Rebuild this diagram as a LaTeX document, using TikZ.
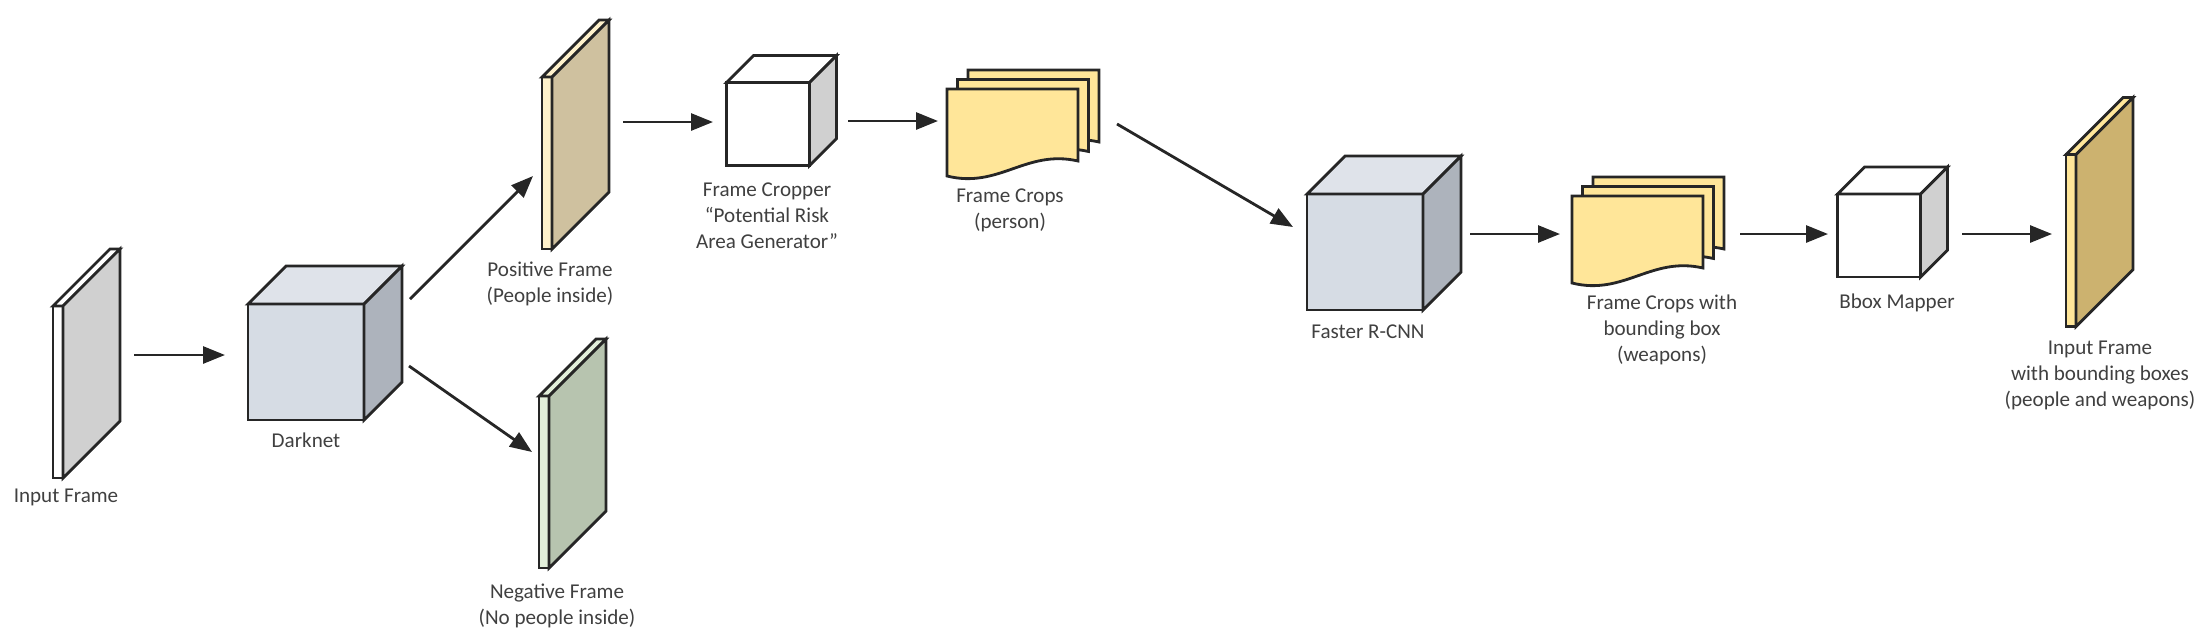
\documentclass[tikz,border=0pt]{standalone}
\usepackage{fontspec}
\setmainfont{Carlito}
\usetikzlibrary{arrows.meta}

\definecolor{edgegray}{HTML}{262626}
\definecolor{textgray}{HTML}{404040}
\definecolor{sidegray}{HTML}{D0D0D0}
\definecolor{cubefront}{HTML}{D6DCE4}
\definecolor{cubetop}{HTML}{DFE3EA}
\definecolor{cubeside}{HTML}{ADB3BC}
\definecolor{posstrip}{HTML}{FFF2CC}
\definecolor{posside}{HTML}{CFC19F}
\definecolor{negstrip}{HTML}{E2EFDA}
\definecolor{negside}{HTML}{B7C4AF}
\definecolor{outstrip}{HTML}{FFE699}
\definecolor{outside}{HTML}{CCB26F}
\definecolor{docyellow}{HTML}{FFE699}

\begin{document}
\begin{tikzpicture}[
  x=0.1mm, y=-0.1mm,
  face/.style={draw=edgegray, line width=0.8pt},
  slab/.style={face, minimum width=1mm, minimum height=17.2mm, inner sep=0pt, outer sep=0pt},
  bigcube/.style={face, fill=cubefront, minimum size=11.6mm, inner sep=0pt, outer sep=0pt},
  smallcube/.style={face, fill=white, minimum size=8.3mm, inner sep=0pt, outer sep=0pt},
  docbox/.style={minimum width=13.1mm, minimum height=8.7mm, inner sep=0pt, outer sep=0pt},
  lbl/.style={text=textgray, align=center, inner sep=0pt, font=\fontsize{6}{7.4}\selectfont},
  arrow/.style={draw=edgegray, line width=0.8pt, -{Triangle[length=2.2mm, width=1.7mm]}}
]
\useasboundingbox (0,0) rectangle (2210,640);

% Front faces
\node [slab, fill=white] (inframe) at (58,392) {};
\node [bigcube] (darknet) at (306,362) {};
\node [slab, fill=posstrip] (posframe) at (547,163) {};
\node [slab, fill=negstrip] (negframe) at (544,482) {};
\node [smallcube] (cropper) at (768,124) {};
\node [docbox] (crops) at (1012.5,132.5) {};
\node [bigcube] (frcnn) at (1365,252) {};
\node [docbox] (cropsbox) at (1637.5,239.5) {};
\node [smallcube] (bbox) at (1879,235.5) {};
\node [slab, fill=outstrip] (outframe) at (2071,240.5) {};

% Top and side faces
\foreach \n/\d/\topc/\sidec in {inframe/57/white/sidegray, darknet/38/cubetop/cubeside,
    posframe/57/posstrip/posside, negframe/57/negstrip/negside, cropper/27/white/sidegray,
    frcnn/38/cubetop/cubeside, bbox/27/white/sidegray, outframe/57/outstrip/outside} {
  \draw[face, fill=\topc] (\n.north west) -- ++(\d,-\d) -- ([shift={(\d,-\d)}]\n.north east) -- (\n.north east) -- cycle;
  \draw[face, fill=\sidec] (\n.north east) -- ++(\d,-\d) -- ([shift={(\d,-\d)}]\n.south east) -- (\n.south east) -- cycle;
}

% Stacked crops
\foreach \n in {crops, cropsbox} {
  \foreach \k in {2,1,0} {
    \begin{scope}[shift={(\n.north west)}, shift={(10.5*\k,-9.5*\k)}]
      \draw[face, fill=docyellow] (0,0) -- (131,0) -- (131,72) .. controls (79,60) and (52,100) .. (0,87) -- cycle;
    \end{scope}
  }
}

% Labels
\node [lbl] (inframetext) at (66,497) {Input Frame};
\node [lbl] (darknettext) at (306,440) {Darknet};
\node [lbl] (postext) at (550,284) {Positive Frame\\(People inside)};
\node [lbl] (negtext) at (557,606) {Negative Frame\\(No people inside)};
\node [lbl] (croppertext) at (767,216) {Frame Cropper\\“Potential Risk\\Area Generator”};
\node [lbl] (cropstext) at (1010,210) {Frame Crops\\(person)};
\node [lbl] (frcnntext) at (1368,332) {Faster R-CNN};
\node [lbl] (cropsboxtext) at (1662,330) {Frame Crops with\\bounding box\\(weapons)};
\node [lbl] (bboxtext) at (1897,303) {Bbox Mapper};
\node [lbl] (outtext) at (2100,375) {Input Frame\\with bounding boxes\\(people and weapons)};

% Arrows
\draw[arrow] ([shift={(71,-37)}]inframe.east) -- ([shift={(-23,-7)}]darknet.west);
\draw[arrow] ([shift={(46,-5)}]darknet.north east) -- ([shift={(-9,13)}]posframe.west);
\draw[arrow] ([shift={(45,4)}]darknet.east) -- ([shift={(-7,-30)}]negframe.west);
\draw[arrow] ([shift={(71,-41)}]posframe.east) -- ([shift={(-13.5,-2)}]cropper.west);
\draw[arrow] ([shift={(38.5,-3)}]cropper.east) -- ([shift={(-9,-11.5)}]crops.west);
\draw[arrow] ([shift={(39,-8.5)}]crops.east) -- ([shift={(-14,-25)}]frcnn.west);
\draw[arrow] ([shift={(47,-18)}]frcnn.east) -- ([shift={(-12,-5.5)}]cropsbox.west);
\draw[arrow] ([shift={(37,-5.5)}]cropsbox.east) -- ([shift={(-9.5,-1.5)}]bbox.west);
\draw[arrow] ([shift={(41.5,-1.5)}]bbox.east) -- ([shift={(-14,-6.5)}]outframe.west);

\end{tikzpicture}
\end{document}
